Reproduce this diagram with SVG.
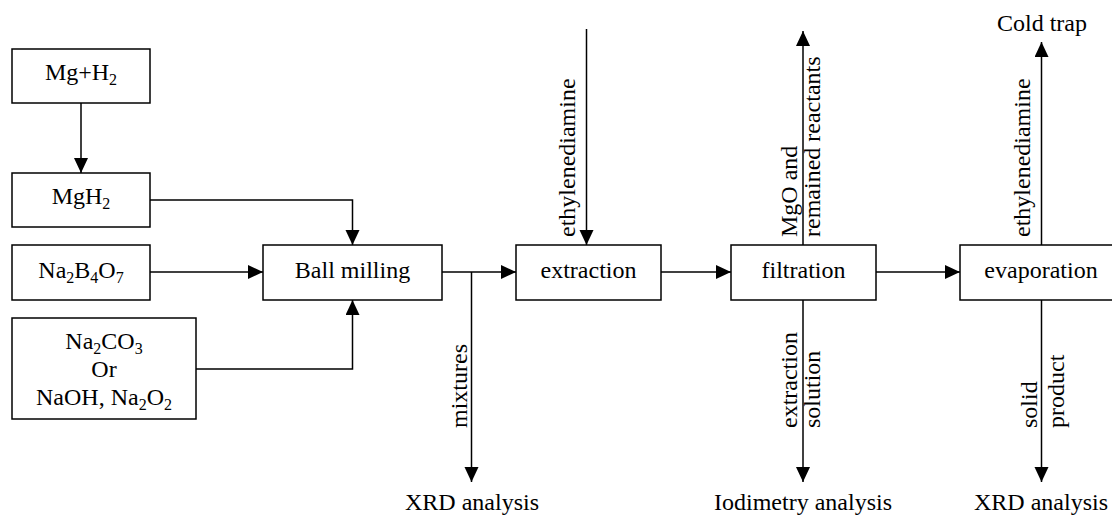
<svg xmlns="http://www.w3.org/2000/svg" width="1112" height="515" viewBox="0 0 1112 515" font-family="'Liberation Serif', 'DejaVu Serif', 'Noto Serif', serif">
<style>
  .box { fill: #fff; stroke: #000; stroke-width: 1.5; }
  .t { font-family: 'Liberation Serif', 'DejaVu Serif', 'Noto Serif', serif; font-size: 24px; fill: #000; }
  .c { text-anchor: middle; }
  .sub { font-size: 16px; }
  .ln { fill: none; stroke: #000; stroke-width: 1.5; }
  .arr { marker-end: url(#ah); }
</style>
<defs>
  <marker id="ah" markerUnits="userSpaceOnUse" markerWidth="16" markerHeight="16" viewBox="0 0 16 16" refX="15" refY="7" orient="auto">
    <path d="M0,0 L15,7 L0,14 Z" fill="#000"/>
  </marker>
</defs>
<rect width="1112" height="515" fill="#fff"/>

<g id="connectors">
  <path class="ln arr" d="M81,103 V173"/>
  <path class="ln arr" d="M150,200 H352.5 V245"/>
  <path class="ln arr" d="M150,272 H263"/>
  <path class="ln arr" d="M196,369 H352.5 V300"/>
  <path class="ln arr" d="M442,272 H516"/>
  <path class="ln arr" d="M471.5,272 V482"/>
  <path class="ln arr" d="M586.5,29 V245"/>
  <path class="ln arr" d="M661,272 H731"/>
  <path class="ln arr" d="M803,245 V31"/>
  <path class="ln arr" d="M803,300 V482"/>
  <path class="ln arr" d="M876,272 H960"/>
  <path class="ln arr" d="M1041.5,245 V42"/>
  <path class="ln arr" d="M1041.5,300 V482"/>

  <text class="t" transform="translate(574.5,237) rotate(-90)">ethylenediamine</text>
  <text class="t" transform="translate(797,237) rotate(-90)">MgO and</text>
  <text class="t" transform="translate(820,237) rotate(-90)">remained reactants</text>
  <text class="t" transform="translate(797,428) rotate(-90)">extraction</text>
  <text class="t" transform="translate(820,428) rotate(-90)">solution</text>
  <text class="t" transform="translate(466.5,428) rotate(-90)">mixtures</text>
  <text class="t" transform="translate(1029.5,237) rotate(-90)">ethylenediamine</text>
  <text class="t" transform="translate(1036.5,428) rotate(-90)">solid</text>
  <text class="t" transform="translate(1063.5,428) rotate(-90)">product</text>

  <text class="t c" x="472" y="510">XRD analysis</text>
  <text class="t c" x="803" y="510">Iodimetry analysis</text>
  <text class="t c" x="1041" y="510">XRD analysis</text>
  <text class="t c" x="1042" y="31">Cold trap</text>
</g>

<g id="n-mgh2-react">
  <rect class="box" x="12" y="49" width="138" height="54"/>
  <text class="t c" x="81" y="80">Mg+H<tspan class="sub" dy="5">2</tspan></text>
</g>
<g id="n-mgh2">
  <rect class="box" x="12" y="173" width="138" height="54"/>
  <text class="t c" x="81" y="204">MgH<tspan class="sub" dy="5">2</tspan></text>
</g>
<g id="n-borax">
  <rect class="box" x="12" y="245" width="138" height="55"/>
  <text class="t c" x="81" y="278">Na<tspan class="sub" dy="5">2</tspan><tspan dy="-5">B</tspan><tspan class="sub" dy="5">4</tspan><tspan dy="-5">O</tspan><tspan class="sub" dy="5">7</tspan></text>
</g>
<g id="n-additive">
  <rect class="box" x="12" y="318" width="184" height="101"/>
  <text class="t c" x="104" y="349">Na<tspan class="sub" dy="5">2</tspan><tspan dy="-5">CO</tspan><tspan class="sub" dy="5">3</tspan></text>
  <text class="t c" x="104" y="377">Or</text>
  <text class="t c" x="104" y="405">NaOH, Na<tspan class="sub" dy="5">2</tspan><tspan dy="-5">O</tspan><tspan class="sub" dy="5">2</tspan></text>
</g>
<g id="n-ball">
  <rect class="box" x="263" y="245" width="179" height="55"/>
  <text class="t c" x="352.5" y="278">Ball milling</text>
</g>
<g id="n-extraction">
  <rect class="box" x="516" y="245" width="145" height="55"/>
  <text class="t c" x="588.5" y="278">extraction</text>
</g>
<g id="n-filtration">
  <rect class="box" x="731" y="245" width="145" height="55"/>
  <text class="t c" x="803.5" y="278">filtration</text>
</g>
<g id="n-evaporation">
  <rect class="box" x="960" y="245" width="165" height="55"/>
  <text class="t c" x="1041" y="278">evaporation</text>
</g>
</svg>
